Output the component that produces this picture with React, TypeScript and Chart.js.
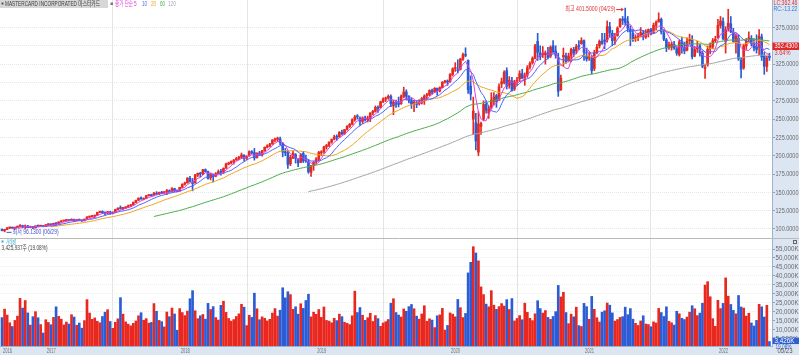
import React, { useEffect, useRef } from 'react';
import { Chart, registerables } from 'chart.js';
Chart.register(...registerables);

// weekly bars: [open, high, low, close, volume (K shares)]
type Bar = [number, number, number, number, number];

const w2016: Bar[] = [
  [99.5,100.2,97.4,97.8,16800],[97.6,99.6,96.13,99.2,21500],[99.3,102.1,99.0,101.6,18200],[101.5,102.5,100.4,101.8,13900],
  [101.8,102.6,100.8,101.2,11800],[101.3,102.3,99.8,101.9,15200],[102.0,104.2,101.5,103.6,17600],[103.6,106.0,102.8,104.9,27500],
  [104.6,105.2,101.5,102.5,22100],[102.8,105.5,100.6,104.3,26300],[104.0,105.0,101.6,102.0,19400],[102.2,104.0,101.8,103.2,12600],
  [103.0,103.5,100.5,101.4,17300],[101.6,104.5,101.2,104.1,20100],[104.0,105.2,103.2,103.8,16700],[103.9,105.0,103.3,104.4,12900],
  [104.4,104.8,102.9,103.3,8200],
];
const w2017: Bar[] = [
  [103.9,106.2,103.5,105.8,15600],[105.8,107.3,105.0,106.5,14100],[106.4,107.1,105.1,105.6,12800],[105.7,108.0,105.3,107.7,16900],
  [107.5,108.8,105.2,107.0,22800],[107.0,109.9,106.6,109.6,17500],[109.7,111.5,109.2,110.9,15900],[110.9,112.0,110.5,111.6,12700],
  [111.5,113.0,110.8,112.3,14300],[112.2,112.8,111.0,111.5,13200],[111.6,113.9,111.2,113.3,18400],[113.2,113.5,110.0,111.6,17100],
  [111.6,112.8,111.0,112.5,12500],[112.6,113.5,111.4,112.0,13800],[112.0,112.4,110.5,111.0,10900],[111.2,113.8,110.9,113.4,15100],
  [114.0,117.0,113.8,116.3,26800],[116.4,117.4,115.3,117.0,19300],[117.0,118.2,116.0,117.7,15800],[117.6,119.0,115.5,118.6,16600],
  [118.8,122.9,118.5,122.8,14700],[122.7,124.6,122.2,124.0,13900],[124.0,124.8,121.3,122.0,17400],[122.1,123.5,119.5,121.4,19800],
  [121.6,124.0,121.0,123.5,21200],[123.5,124.2,120.3,121.4,14600],[121.6,123.5,120.6,122.8,10800],[123.0,127.0,122.7,126.6,14200],
  [126.6,128.9,126.0,128.5,16100],[128.5,131.5,127.0,127.9,27900],[128.0,129.5,126.5,128.9,18700],[128.8,130.6,127.7,130.0,14400],
  [130.0,132.8,129.0,131.5,13100],[131.5,133.5,130.8,133.0,12200],[133.0,136.9,132.6,136.5,13600],[136.4,139.5,136.0,139.2,14900],
  [139.2,142.6,138.9,142.0,17800],[142.1,144.0,140.5,141.2,19500],[140.3,142.5,139.8,141.2,15300],[141.4,145.8,141.2,145.5,16200],
  [145.5,147.0,145.0,146.8,13700],[146.8,147.5,144.7,145.6,14100],[145.8,150.0,145.0,148.6,24600],[148.8,151.0,146.5,147.5,20300],
  [147.5,150.5,147.0,150.1,15200],[150.0,151.5,148.3,148.9,14500],[149.0,151.2,148.5,150.9,11600],[151.0,154.0,146.9,151.5,19900],
  [151.6,153.4,149.8,150.8,17300],[151.0,156.4,150.7,155.0,22100],[155.0,155.6,151.0,152.2,18800],[152.4,153.4,151.0,151.4,9700],
];
const w2018: Bar[] = [
  [152.0,157.0,151.7,156.9,21800],[157.0,161.8,156.4,161.0,19600],[161.3,164.0,159.7,162.8,17900],[163.0,170.0,162.5,169.6,20400],
  [169.0,171.9,164.4,164.6,27300],[163.5,168.9,152.1,162.0,31800],[163.0,174.5,162.5,173.8,20600],[173.5,176.5,171.5,176.0,16200],
  [176.0,177.5,171.0,175.0,17800],[175.0,181.4,174.2,181.0,18500],[181.0,182.0,177.5,178.3,15900],[178.2,179.2,168.0,169.0,24700],
  [170.0,176.5,167.0,175.2,21300],[173.5,175.0,164.0,171.5,22900],[172.0,177.0,171.2,175.5,16800],[176.0,180.6,175.5,178.0,15400],
  [178.2,181.5,173.6,177.3,23600],[178.0,183.5,175.5,182.8,25900],[183.0,190.0,182.7,188.7,19700],[188.6,191.2,187.5,190.1,16300],
  [190.1,193.0,188.6,192.3,14800],[192.0,194.9,188.5,194.0,15700],[194.5,197.7,193.5,196.2,17400],[196.5,199.3,194.5,198.2,18900],
  [198.0,203.7,196.0,201.0,24200],[200.5,201.5,193.0,196.5,22600],[196.5,200.0,194.7,199.4,12300],[199.8,206.8,199.3,205.6,18100],
  [205.6,207.0,202.5,204.0,16900],[204.2,210.0,194.0,197.0,30400],[197.5,204.0,196.6,203.6,21700],[203.8,206.0,200.5,201.8,15600],
  [201.0,207.5,199.5,206.6,17200],[206.6,212.0,206.0,211.5,16400],[211.6,215.0,210.5,213.4,14900],[213.0,217.0,212.0,215.9,15800],
  [216.0,222.0,215.5,221.5,19300],[221.5,224.0,219.0,222.5,21800],[222.5,225.4,219.5,222.6,17600],[223.0,225.3,215.0,218.0,20900],
  [217.0,218.0,198.5,205.0,33400],[205.5,210.0,200.0,204.0,27800],[204.0,206.0,182.5,188.0,31200],[189.0,200.5,186.5,197.5,29600],
  [197.0,206.0,196.0,203.5,21400],[201.5,203.0,190.0,196.5,22800],[195.0,196.0,185.2,190.0,18700],[191.0,203.0,190.5,201.0,24500],
  [203.0,206.0,190.6,193.0,21900],[194.0,201.0,191.0,193.0,26300],[192.0,195.0,176.0,178.0,29800],[177.5,187.0,171.9,186.0,17200],
  [187.0,192.0,180.0,191.0,19800],
];
const w2019: Bar[] = [
  [192.0,197.5,188.5,195.5,18600],[195.0,206.0,193.0,204.5,21300],[204.0,207.0,200.0,205.0,16900],[205.5,213.0,203.0,212.0,22700],
  [212.0,215.5,209.0,214.0,15200],[214.5,219.0,212.5,218.5,14800],[218.5,223.0,217.0,222.0,13900],[222.5,228.0,221.5,225.5,16400],
  [225.5,228.5,221.0,225.0,15100],[226.0,233.0,225.0,232.0,18700],[232.0,235.0,228.5,230.0,17300],[230.0,236.0,229.0,235.5,14200],
  [236.0,241.0,235.0,240.0,13600],[240.0,244.0,238.5,243.0,12900],[243.0,250.5,242.0,249.0,17800],[249.0,255.0,247.0,253.0,31500],
  [253.5,256.0,250.0,253.0,19600],[251.0,253.0,241.5,247.0,22400],[247.0,253.0,244.0,251.5,18100],[251.5,254.0,247.0,249.0,15300],
  [249.0,254.0,246.0,251.5,16700],[251.0,259.0,246.5,258.0,19200],[258.5,262.0,256.0,260.5,14600],[260.5,268.0,259.5,266.0,17900],
  [266.0,268.0,259.0,264.5,16200],[265.5,274.5,265.0,273.5,11900],[273.5,279.0,272.5,277.5,13800],[277.5,280.0,274.0,278.5,14500],
  [279.0,283.0,277.0,281.0,15700],[281.0,283.0,267.0,271.0,24800],[268.0,275.5,256.0,273.0,27300],[272.0,276.0,266.0,270.5,19600],
  [271.0,280.0,266.5,270.0,18200],[271.0,283.0,270.0,281.5,17100],[281.0,293.5,279.0,287.0,21600],[287.0,290.0,276.0,281.0,20300],
  [281.0,282.0,272.0,275.0,22900],[275.0,279.0,264.5,270.0,24100],[271.5,275.0,260.0,273.0,21700],[272.0,275.0,265.5,270.0,17600],
  [271.0,276.5,269.0,272.0,15900],[272.0,279.5,270.5,278.0,18800],[278.0,283.0,270.0,281.5,23400],[282.0,285.0,278.0,283.0,14700],
  [283.0,290.0,282.0,289.0,16100],[289.0,291.0,284.0,286.5,15400],[287.0,293.0,286.5,292.0,11200],[292.0,292.5,282.5,288.5,17800],
  [288.5,294.0,287.0,293.0,18300],[293.0,301.0,293.0,300.5,21900],[300.5,303.0,299.0,302.0,9800],[302.0,303.5,296.0,300.5,12400],
];
const w2020: Bar[] = [
  [301.0,312.0,300.0,311.0,19400],[311.0,320.0,309.0,318.5,18700],[319.0,327.0,315.0,320.0,17200],[317.0,331.0,313.0,316.0,26900],
  [318.0,333.0,317.0,332.0,22300],[332.0,340.0,330.0,338.0,16800],[338.0,347.3,335.0,337.0,19100],[330.0,331.0,285.0,290.0,41700],
  [295.0,309.0,276.0,284.0,47600],[250.0,280.0,229.0,261.0,56300],[245.0,258.0,208.0,220.0,52800],[205.0,260.0,199.99,243.0,48400],
  [240.0,246.0,229.0,244.0,33900],[250.0,275.0,248.0,270.0,29600],[270.0,275.0,258.0,262.0,24300],[258.0,268.0,251.0,264.0,22800],
  [266.0,286.0,264.0,276.0,31800],[274.0,286.0,269.0,280.0,23700],[282.0,284.0,266.0,274.0,21400],[276.0,298.0,275.0,294.0,22900],
  [298.0,306.0,293.0,301.0,24600],[300.0,316.0,298.0,314.0,23200],[316.0,320.0,291.0,295.0,26800],[296.0,308.0,292.0,303.0,21300],
  [302.0,307.0,288.0,289.0,27400],[291.0,303.0,289.0,301.0,14900],[302.0,307.0,296.0,303.0,16300],[305.0,316.0,301.0,312.0,17900],
  [312.0,318.0,305.0,306.0,15600],[306.0,313.0,296.0,309.0,24800],[310.0,323.0,307.0,320.0,19700],[321.0,328.0,318.0,326.0,16400],
  [327.0,335.0,325.0,333.0,15100],[333.0,352.0,332.0,350.0,18900],[356.0,367.0,330.0,341.0,26200],[340.0,350.0,331.0,335.0,21800],
  [338.0,349.0,334.0,340.0,19300],[338.0,343.0,325.0,340.0,20700],[340.0,348.0,332.0,334.0,16900],[336.0,350.0,334.0,348.0,15800],
  [350.0,357.0,340.0,342.0,17400],[343.0,350.0,333.0,337.0,20100],[333.0,340.0,281.0,288.0,34700],[290.0,310.0,289.0,306.0,28300],
  [335.0,347.0,322.0,337.0,30900],[336.0,340.0,326.0,328.0,19600],[330.0,340.0,328.0,336.0,13400],[337.0,347.0,328.0,345.0,18700],
  [345.0,348.0,335.0,340.0,17200],[343.0,352.0,339.0,349.0,22600],[350.0,357.0,345.0,349.0,12300],[353.0,361.0,352.0,357.0,11800],
];
const w2021: Bar[] = [
  [357.0,358.0,330.0,341.0,24700],[336.0,347.0,329.0,332.0,22900],[334.0,340.0,330.0,336.0,15800],[333.0,337.0,312.0,316.0,28600],
  [319.0,344.0,316.0,340.0,21400],[341.0,352.0,339.0,348.0,16700],[350.0,358.0,347.0,356.0,14300],[356.0,367.0,352.0,353.0,19800],
  [358.0,367.0,346.0,356.0,20600],[358.0,384.0,355.0,376.0,24900],[376.0,382.0,362.0,368.0,23700],[367.0,371.0,350.0,357.0,19400],
  [358.0,367.0,352.0,362.0,14800],[364.0,376.0,363.0,374.0,15700],[376.0,387.0,375.0,386.0,16900],[386.0,390.0,379.0,385.0,17300],
  [387.0,401.5,378.0,382.0,22600],[383.0,390.0,369.0,374.0,18400],[372.0,377.0,350.0,369.0,21800],[367.0,372.0,356.0,358.0,15900],
  [360.0,365.0,356.0,360.0,13600],[361.0,367.0,357.0,363.0,12400],[363.0,375.0,362.0,368.0,14900],[367.0,371.0,358.0,362.0,17800],
  [362.0,372.0,360.0,369.0,13200],[369.0,373.0,362.0,372.0,12900],[372.0,374.0,365.0,367.0,11700],[368.0,381.0,367.0,378.0,14400],
  [378.0,384.0,372.0,382.0,13800],[383.0,395.0,382.0,386.0,21900],[386.0,388.0,366.0,369.0,19600],[368.0,372.0,357.0,359.0,17400],
  [358.0,360.0,342.0,347.0,22800],[348.0,355.0,345.0,351.0,14700],[348.0,355.0,344.0,352.0,13900],[352.0,356.0,345.0,347.0,12600],
  [346.0,349.0,337.0,340.0,20300],[338.0,358.0,336.0,355.0,18900],[356.0,362.0,340.0,348.0,16400],[348.0,355.0,339.0,343.0,15700],
  [344.0,361.0,343.0,356.0,17100],[357.0,366.0,352.0,358.0,19800],[358.0,364.0,332.0,335.0,23400],[336.0,349.0,335.0,345.0,21700],
  [346.0,356.0,341.0,348.0,17900],[350.0,352.0,336.0,340.0,19300],[340.0,343.0,320.0,322.0,24800],[319.0,325.0,305.5,320.0,34900],
  [324.0,350.0,322.0,345.0,36800],[346.0,354.0,339.0,350.0,28400],[349.0,360.0,346.0,357.0,16200],[357.0,363.0,355.0,359.0,11900],
];
const w2022: Bar[] = [
  [361.0,386.0,360.0,378.0,26400],[378.0,390.0,374.0,384.0,21800],[383.0,388.0,358.0,360.0,24700],[356.0,376.0,340.0,372.0,38900],
  [374.0,399.9,370.0,381.0,28700],[380.0,390.0,368.0,369.0,24100],[368.0,374.0,355.0,356.0,20800],[355.0,366.0,340.0,363.0,18900],
  [360.0,365.0,330.0,332.0,29100],[330.0,334.0,306.0,318.0,22700],[320.0,352.0,318.0,350.0,22100],[350.0,360.0,345.0,357.0,17600],
  [359.0,369.0,355.0,361.0,19200],[360.0,364.0,350.0,353.0,13800],[353.0,360.0,343.0,347.0,12100],[348.0,365.0,340.0,345.0,15200],
  [348.0,372.0,338.0,363.0,24200],[362.0,366.0,330.0,335.0,22800],[336.0,341.0,311.0,322.0,17100],[322.0,336.0,315.0,333.0,23600],
  [336.0,340.0,330.0,334.0,3426],
];

const yearNames = ['2016', '2017', '2018', '2019', '2020', '2021', '2022'];
const yearBars = [w2016, w2017, w2018, w2019, w2020, w2021, w2022];
const priceTicks = [100, 125, 150, 175, 200, 225, 250, 275, 300, 325, 350, 375];
const volumeTicks = [5000, 10000, 15000, 20000, 25000, 30000, 35000, 40000, 45000, 50000, 55000];
const maPeriods = [5, 10, 20, 60, 120];
const maColors = ['#e040e0', '#4e64ff', '#f0a51e', '#4cae4c', '#a6a6a6'];
const maLegend = ['5', '10', '20', '60', '120'];
const titleText = 'MASTERCARD INCORPORATED 마스터카드';
const legendText = '종가 단순';
const lastDate = '05/23';
const highText = '최고 401.5000 (04/29)';
const lowText = '최저 96.1300 (06/29)';
const lcText = 'LC:362.46';
const rcText = 'RC:-13.22';
const curPrice = '352.4300';
const curPct = '3.64%';
const volName = '거래량';
const volInfo = '3,425,937주 (19.08%)';
const volBox = '3,426K';
const volPct = '19.08%';

const bars: Bar[] = yearBars.flat();
const yearStarts: number[] = [];
{
  let acc = 0;
  for (const y of yearBars) { yearStarts.push(acc); acc += y.length; }
}

const UP = '#e8281f';
const DOWN = '#2b5cd6';
const FONT = "'Liberation Sans Narrow', 'Liberation Sans', 'Noto Sans CJK KR', sans-serif";
const W = 799;
const H1 = 239;
const H2 = 116;
const X_MIN = -0.78;
const X_MAX = 299.0;
const AXIS_W = 27;
const PANEL = '#dce6f2';

function fitText(ctx: CanvasRenderingContext2D, s: string, x: number, y: number, color: string, size: number, maxW?: number, align: string = 'left') {
  ctx.save();
  ctx.font = `${size}px ${FONT}`;
  ctx.fillStyle = color;
  ctx.textBaseline = 'middle';
  ctx.textAlign = 'left';
  const w = ctx.measureText(s).width;
  const k = maxW && w > maxW ? maxW / w : 1;
  let x0 = x;
  if (align === 'right') x0 = x - w * k;
  else if (align === 'center') x0 = x - (w * k) / 2;
  ctx.translate(x0, y);
  ctx.scale(k, 1);
  ctx.fillText(s, 0, 0);
  ctx.restore();
  return w * k;
}

function sma(n: number) {
  return bars.map((_, i) => {
    if (i < n - 1) return { x: i, y: null };
    let s = 0;
    for (let j = i - n + 1; j <= i; j++) s += bars[j][3];
    return { x: i, y: s / n };
  });
}

function xScale(h: number) {
  return {
    type: 'linear',
    min: X_MIN,
    max: X_MAX,
    offset: false,
    bounds: 'data',
    afterBuildTicks: (s: any) => { s.ticks = yearStarts.slice(1).map((v) => ({ value: v })); },
    ticks: { display: false },
    grid: { color: '#e4e4e4', drawTicks: false, lineWidth: 1 },
    border: { display: false },
    afterFit: (s: any) => { s.height = h; s.paddingLeft = 0; s.paddingRight = 0; },
  };
}

// draws the value labels of a right-hand axis inside its narrow panel
function drawAxisLabels(ctx: CanvasRenderingContext2D, scale: any, fmt: (v: number) => string) {
  for (const t of scale.ticks) {
    const y = scale.getPixelForValue(t.value);
    fitText(ctx, fmt(t.value), scale.left + 3.5, y + 0.3, '#6a6a6a', 7, 23);
  }
}

export default function App() {
  const priceRef = useRef<HTMLCanvasElement>(null);
  const volRef = useRef<HTMLCanvasElement>(null);

  useEffect(() => {
    const colors = bars.map((b) => (b[3] >= b[0] ? UP : DOWN));
    const wicks = bars.map((b, i) => ({ x: i, y: [b[2], b[1]] }));
    const bodies = bars.map((b, i) => ({ x: i, y: [Math.min(b[0], b[3]), Math.max(b[0], b[3])] }));
    const vols = bars.map((b, i) => ({ x: i, y: b[4] }));

    let hiI = 0, loI = 0;
    bars.forEach((b, i) => { if (b[1] > bars[hiI][1]) hiI = i; if (b[2] < bars[loI][2]) loI = i; });

    const pricePlugin = {
      id: 'pricePanel',
      beforeDraw(chart: any) {
        const { ctx, chartArea } = chart;
        ctx.save();
        ctx.fillStyle = '#ffffff';
        ctx.fillRect(0, 0, W, H1);
        ctx.fillStyle = PANEL;
        ctx.fillRect(chartArea.right, 0, W - chartArea.right, H1);
        ctx.restore();
      },
      afterDraw(chart: any) {
        const { ctx, chartArea, scales } = chart;
        ctx.save();
        drawAxisLabels(ctx, scales.y, (v) => v.toFixed(4));
        // title
        ctx.fillStyle = '#d7d7d7';
        ctx.fillRect(0, 0, 108, 8);
        ctx.fillStyle = '#555';
        ctx.fillRect(1.5, 2.5, 2, 2);
        fitText(ctx, titleText, 5, 4.3, '#3c3c3c', 6.5, 95);
        ctx.fillStyle = '#777';
        ctx.fillRect(110.5, 2.5, 2.5, 2.5);
        fitText(ctx, legendText, 115, 4.3, maColors[0], 6.5, 18);
        const lx = [134, 142, 151, 160, 168];
        maLegend.forEach((t, k) => fitText(ctx, t, lx[k], 4.3, maColors[k], 6.5, t.length * 2.6));
        // high label
        const hx = scales.x.getPixelForValue(hiI);
        const hy = scales.y.getPixelForValue(bars[hiI][1]);
        ctx.strokeStyle = '#e03030';
        ctx.fillStyle = '#e03030';
        ctx.lineWidth = 1;
        ctx.beginPath();
        ctx.moveTo(hx - 9, hy + 1.5);
        ctx.lineTo(hx - 2, hy + 1.5);
        ctx.stroke();
        ctx.beginPath();
        ctx.moveTo(hx - 1.5, hy + 1.5);
        ctx.lineTo(hx - 4, hy - 0.5);
        ctx.lineTo(hx - 4, hy + 3.5);
        ctx.closePath();
        ctx.fill();
        fitText(ctx, highText, hx - 10, hy + 1.5, '#e03030', 6.5, 50, 'right');
        // low label
        const lxp = scales.x.getPixelForValue(loI);
        const lyp = scales.y.getPixelForValue(bars[loI][2]);
        ctx.strokeStyle = '#4450c8';
        ctx.fillStyle = '#4450c8';
        ctx.beginPath();
        ctx.moveTo(lxp + 2, lyp + 0.5);
        ctx.lineTo(lxp + 7, lyp + 0.5);
        ctx.stroke();
        fitText(ctx, lowText, lxp + 8, lyp + 0.5, '#4450c8', 6.5, 46);
        // right panel labels
        const rx = chartArea.right + 1.5;
        fitText(ctx, lcText, rx, 3, '#e03030', 6.5, 24);
        fitText(ctx, rcText, rx, 9.5, '#3478d8', 6.5, 24);
        ctx.fillStyle = '#e0292a';
        ctx.fillRect(chartArea.right + 0.5, 42.5, W - chartArea.right - 0.5, 7.5);
        fitText(ctx, curPrice, rx + 1, 46.3, '#ffffff', 6.5, 23);
        fitText(ctx, curPct, rx + 1, 53.5, '#e03030', 6.5, 16);
        // separator
        ctx.strokeStyle = '#b9b9b9';
        ctx.beginPath();
        ctx.moveTo(0, H1 - 0.5);
        ctx.lineTo(W, H1 - 0.5);
        ctx.stroke();
        ctx.restore();
      },
    };

    const volPlugin = {
      id: 'volPanel',
      beforeDraw(chart: any) {
        const { ctx, chartArea } = chart;
        ctx.save();
        ctx.fillStyle = '#ffffff';
        ctx.fillRect(0, 0, W, H2);
        ctx.fillStyle = PANEL;
        ctx.fillRect(chartArea.right, 0, W - chartArea.right, H2);
        ctx.fillRect(0, chartArea.bottom, W, H2 - chartArea.bottom);
        ctx.restore();
      },
      afterDraw(chart: any) {
        const { ctx, chartArea, scales } = chart;
        ctx.save();
        drawAxisLabels(ctx, scales.y, (v) => v.toLocaleString('en-US') + 'K');
        ctx.fillStyle = '#3aa6c4';
        ctx.fillRect(1.5, 1.5, 2, 2);
        fitText(ctx, volName, 6, 2.8, '#3aa6c4', 6.5, 10);
        fitText(ctx, volInfo, 1.5, 9.2, '#444444', 6.5, 46);
        // year labels
        yearStarts.forEach((v, k) => {
          const px = scales.x.getPixelForValue(v);
          fitText(ctx, yearNames[k], px + 1, chartArea.bottom + 4.8, '#707070', 6.5, 9);
        });
        const rx = chartArea.right + 1.5;
        ctx.strokeStyle = '#666';
        ctx.lineWidth = 1;
        ctx.strokeRect(793.5, 1.5, 3, 3);
        const vy = scales.y.getPixelForValue(bars[bars.length - 1][4]);
        ctx.fillStyle = '#2f5fcf';
        ctx.fillRect(chartArea.right + 0.5, vy - 4, W - chartArea.right - 0.5, 6.5);
        fitText(ctx, volBox, rx + 1, vy - 0.7, '#ffffff', 6.5, 20);
        fitText(ctx, volPct, rx + 2, vy + 5.5, '#2f5fcf', 6.5, 16);
        fitText(ctx, lastDate, rx + 4, chartArea.bottom + 5.5, '#555555', 6.5, 15);
        ctx.restore();
      },
    };

    const common = {
      responsive: false,
      animation: false as const,
      devicePixelRatio: 1,
      events: [] as any[],
      layout: { padding: 0 },
      plugins: { legend: { display: false }, tooltip: { enabled: false } },
    };

    const maSets = maPeriods.map((p, k) => ({
      type: 'line',
      data: sma(p),
      borderColor: maColors[k],
      borderWidth: 1,
      pointRadius: 0,
      spanGaps: false,
      tension: 0,
    }));

    const c1 = new Chart(priceRef.current as HTMLCanvasElement, {
      type: 'bar',
      data: {
        datasets: [
          ...maSets,
          { type: 'bar', data: bodies, backgroundColor: colors, barThickness: 2, grouped: false, minBarLength: 1 },
          { type: 'bar', data: wicks, backgroundColor: colors, barThickness: 1, grouped: false, minBarLength: 1 },
        ] as any,
      },
      options: {
        ...common,
        scales: {
          x: xScale(0) as any,
          y: {
            type: 'linear',
            position: 'right',
            min: 86.35,
            max: 412.5,
            bounds: 'data',
            afterBuildTicks: (s: any) => { s.ticks = priceTicks.map((v) => ({ value: v })); },
            ticks: { display: false, autoSkip: false },
            grid: { color: '#e6e6e6', tickLength: 3, tickColor: '#8ea2ba' },
            border: { display: true, color: '#9fb2c8', dash: [1, 1] },
            afterFit: (s: any) => { s.width = AXIS_W; s.paddingTop = 0; s.paddingBottom = 0; },
          } as any,
        },
      } as any,
      plugins: [pricePlugin],
    });

    const c2 = new Chart(volRef.current as HTMLCanvasElement, {
      type: 'bar',
      data: {
        datasets: [
          { type: 'bar', data: vols, backgroundColor: colors, barThickness: 2, grouped: false },
        ] as any,
      },
      options: {
        ...common,
        scales: {
          x: { ...(xScale(9) as any), border: { display: true, color: '#9fb2c8' } },
          y: {
            type: 'linear',
            position: 'right',
            min: 948,
            max: 60590,
            bounds: 'data',
            afterBuildTicks: (s: any) => { s.ticks = volumeTicks.map((v) => ({ value: v })); },
            ticks: { display: false, autoSkip: false },
            grid: { color: '#ececec', tickLength: 3, tickColor: '#8ea2ba' },
            border: { display: true, color: '#9fb2c8', dash: [1, 1] },
            afterFit: (s: any) => { s.width = AXIS_W; s.paddingTop = 0; s.paddingBottom = 0; },
          } as any,
        },
      } as any,
      plugins: [volPlugin],
    });

    return () => { c1.destroy(); c2.destroy(); };
  }, []);

  return (
    <div style={{ position: 'fixed', left: 0, top: 0, width: W, height: H1 + H2, background: '#ffffff' }}>
      <canvas ref={priceRef} width={W} height={H1} style={{ position: 'absolute', left: 0, top: 0, width: W, height: H1 }} />
      <canvas ref={volRef} width={W} height={H2} style={{ position: 'absolute', left: 0, top: H1, width: W, height: H2 }} />
    </div>
  );
}
